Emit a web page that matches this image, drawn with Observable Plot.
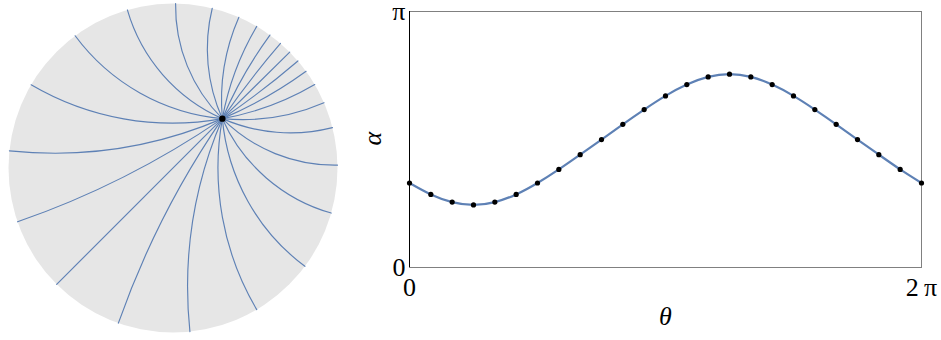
<!DOCTYPE html>
<html>
<head>
<meta charset="utf-8">
<script src="https://cdn.jsdelivr.net/npm/d3@7"></script>
<script src="https://cdn.jsdelivr.net/npm/@observablehq/plot@0.6"></script>
<style>
  html, body { margin: 0; padding: 0; background: #ffffff; }
  #wrap { display: flex; width: 941px; height: 340px; }
  #wrap svg { display: block; }
</style>
</head>
<body>
<div id="wrap"></div>
<script>
// ---------------- data ----------------
// Left panel: point inside the unit disk and boundary angles (degrees) where the geodesics end
const sourcePoint = [0.3, 0.3];
const endpointAngles = [89.1, 76.2, 66.4, 59.4, 53.9, 49.2, 44.8, 40.6, 36.0, 30.5, 23.4, 14.2,
                        1.0, -15.9, -36.7, -59.4, -84.1, -109.4, -135.0, -160.9, 174.0, 149.6, 126.5, 106.1];

// Right panel: α at evenly spaced θ from 0 to 2π
const alphaValues = [1.037, 0.897, 0.803, 0.768, 0.803, 0.897, 1.037, 1.204, 1.385, 1.570, 1.757, 1.938,
                     2.106, 2.245, 2.339, 2.373, 2.339, 2.245, 2.106, 1.938, 1.757, 1.570, 1.385, 1.204, 1.037];
const thetaTicks = [0, 2 * Math.PI];
const thetaTickLabels = ["0", "2\u2009\u03c0"];
const alphaTicks = [0, Math.PI];
const alphaTickLabels = ["0", "\u03c0"];
const xLabel = "\u03b8";
const yLabel = "\u03b1";

// ---------------- styles ----------------
const blue = "#5E81B5";
const diskFill = "#e6e6e6";
const font = "'Liberation Serif', 'Times New Roman', serif";

// ---------------- left panel ----------------
const L = {width: 345, height: 340, mL: 8, mR: 8, mT: 3, mB: 8};
const diskRadiusPx = (L.width - L.mL - L.mR) / 2;

const geodesics = endpointAngles.map(deg => {
  const a = deg * Math.PI / 180;
  const qx = Math.cos(a), qy = Math.sin(a);
  const dx = qx - sourcePoint[0], dy = qy - sourcePoint[1];
  // geodesic meets the boundary orthogonally: end tangent is radial
  const s = Math.atan2(dx * qy - dy * qx, dx * qx + dy * qy);
  return {x1: sourcePoint[0], y1: sourcePoint[1], x2: qx, y2: qy, bend: -s * 180 / Math.PI};
});

const leftPlot = Plot.plot({
  width: L.width, height: L.height,
  marginLeft: L.mL, marginRight: L.mR, marginTop: L.mT, marginBottom: L.mB,
  x: {domain: [-1, 1], axis: null},
  y: {domain: [-1, 1], axis: null},
  marks: [
    Plot.dot([{x: 0, y: 0}], {x: "x", y: "y", r: diskRadiusPx, fill: diskFill, stroke: "none"}),
    ...geodesics.map(g => Plot.arrow([g], {
      x1: "x1", y1: "y1", x2: "x2", y2: "y2",
      bend: g.bend, headLength: 0, stroke: blue, strokeWidth: 1.15
    })),
    Plot.dot([{x: sourcePoint[0], y: sourcePoint[1]}], {x: "x", y: "y", r: 3.2, fill: "black"})
  ]
});

// ---------------- right panel ----------------
const series = alphaValues.map((a, i) => ({theta: i * 2 * Math.PI / (alphaValues.length - 1), alpha: a}));

const rightPlot = Plot.plot({
  width: 596, height: 340,
  marginLeft: 64, marginRight: 20, marginTop: 11, marginBottom: 73,
  style: {fontFamily: font, fontSize: "26px", color: "black", background: "white"},
  x: {domain: [0, 2 * Math.PI], ticks: thetaTicks, tickFormat: (d, i) => thetaTickLabels[i],
      tickSize: 0, tickPadding: 10, label: null},
  y: {domain: [0, Math.PI], ticks: alphaTicks, tickFormat: (d, i) => alphaTickLabels[i],
      tickSize: 0, tickPadding: 4, label: null},
  marks: [
    Plot.frame({stroke: "#808080", strokeWidth: 1}),
    Plot.ruleX([0], {stroke: "black", strokeWidth: 1}),
    Plot.line(series, {x: "theta", y: "alpha", curve: "natural", stroke: blue, strokeWidth: 2.2}),
    Plot.dot(series, {x: "theta", y: "alpha", r: 2.6, fill: "black"}),
    Plot.text([xLabel], {frameAnchor: "bottom", dy: 57, fontStyle: "italic", fontSize: 26}),
    Plot.text([yLabel], {frameAnchor: "left", dx: -37, dy: 6, rotate: -90, fontStyle: "italic", fontSize: 26})
  ]
});

document.getElementById("wrap").append(leftPlot, rightPlot);
</script>
</body>
</html>
